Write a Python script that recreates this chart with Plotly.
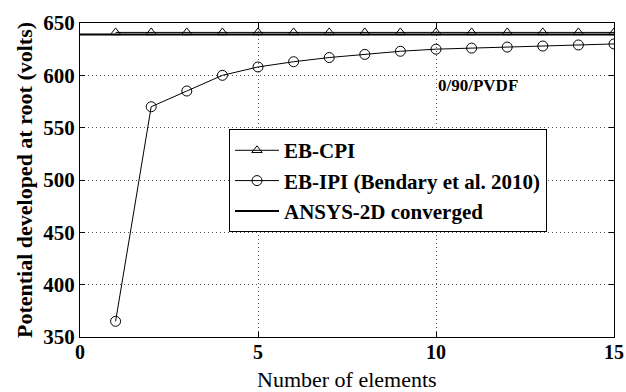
import plotly.graph_objects as go

# Number of beam elements
elements = list(range(1, 16))

# Potential developed at the root (volts)
eb_cpi = [641] * 15
eb_ipi = [365, 570, 585, 600, 608, 613, 617, 620, 623, 625, 626, 627, 628, 629, 630]
ansys_converged = 639

x_ticks = [0, 5, 10, 15]
y_ticks = [350, 400, 450, 500, 550, 600, 650]

serif = "Times New Roman, Liberation Serif, DejaVu Serif, serif"

fig = go.Figure()

fig.add_trace(go.Scatter(
    x=elements, y=eb_cpi, mode="lines+markers", name="EB-CPI",
    line=dict(color="black", width=1),
    marker=dict(symbol="triangle-up-open", size=9, color="black", line=dict(width=1)),
))
fig.add_trace(go.Scatter(
    x=elements, y=eb_ipi, mode="lines+markers", name="EB-IPI (Bendary et al. 2010)",
    line=dict(color="black", width=1),
    marker=dict(symbol="circle-open", size=10, color="black", line=dict(width=1)),
))
fig.add_trace(go.Scatter(
    x=[0, 15], y=[ansys_converged, ansys_converged], mode="lines",
    name="ANSYS-2D converged",
    line=dict(color="black", width=2),
))

fig.add_annotation(
    x=10, y=590, xref="x", yref="y", xanchor="left", yanchor="middle",
    text="<b>0/90/PVDF</b>", showarrow=False,
    font=dict(family=serif, size=17, color="black"),
)
fig.add_annotation(
    x=0.5, y=-0.089, xref="paper", yref="paper", xanchor="center", yanchor="top",
    text="Number of elements", showarrow=False,
    font=dict(family=serif, size=22, color="black"),
)

axis_common = dict(
    showline=True, linecolor="black", linewidth=1, mirror="ticks",
    ticks="inside", ticklen=5, tickcolor="black",
    showgrid=True, gridcolor="#555", griddash="1px,3px", gridwidth=1,
    zeroline=False, automargin=False,
)

fig.update_xaxes(
    range=[0, 15], tickvals=x_ticks, ticktext=[f"<b>{v}</b>" for v in x_ticks],
    tickfont=dict(family=serif, size=20, color="black"),
    ticklabelstandoff=-3,
    **axis_common,
)
fig.update_yaxes(
    range=[350, 650], tickvals=y_ticks, ticktext=[f"<b>{v}</b>" for v in y_ticks],
    tickfont=dict(family=serif, size=21, color="black"),
    title=dict(text="<b>Potential developed at root (volts)</b>", standoff=4,
               font=dict(family=serif, size=22, color="black")),
    **axis_common,
)

fig.update_layout(
    width=626, height=392,
    margin=dict(l=80, r=12, t=23, b=55),
    paper_bgcolor="white", plot_bgcolor="white",
    font=dict(family=serif, color="black"),
    showlegend=True,
    legend=dict(
        x=0.279, y=0.662, xanchor="left", yanchor="top",
        bgcolor="white", bordercolor="black", borderwidth=1,
        font=dict(family=serif, size=21, color="black", weight="bold"),
        tracegroupgap=0, itemwidth=44,
    ),
)

fig.write_html("out.html")
